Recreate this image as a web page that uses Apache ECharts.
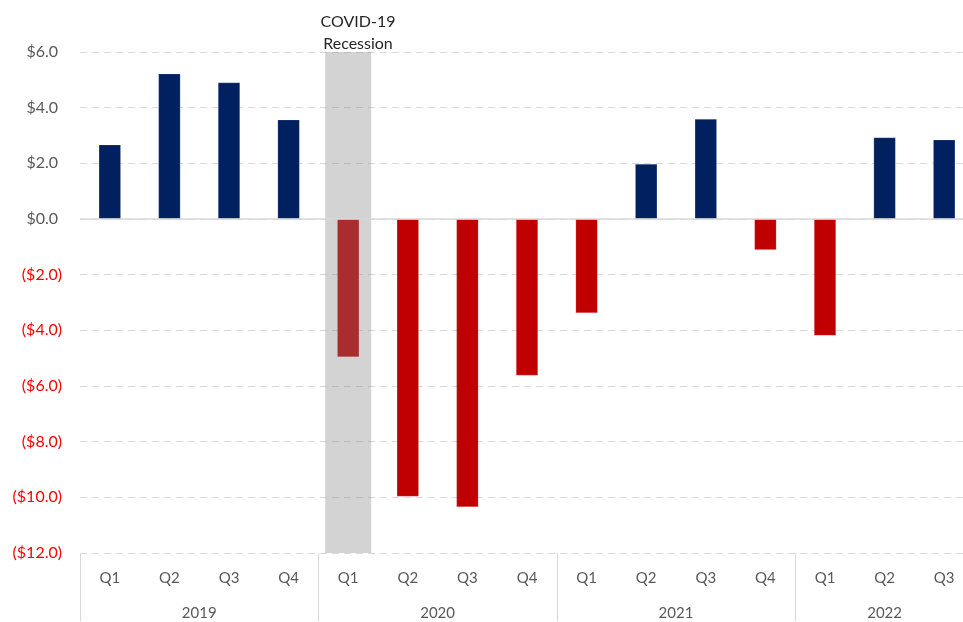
<!DOCTYPE html>
<html>
<head>
<meta charset="utf-8">
<title>COVID-19 Recession</title>
<script src="https://cdn.jsdelivr.net/npm/echarts@6/dist/echarts.min.js"></script>
<style>
  html, body { margin: 0; padding: 0; background: #fff; }
  #myChart { width: 963px; height: 622px; }
</style>
</head>
<body>
<div id="myChart"></div>
<script>
// quarters along the bottom, grouped by year
const quarters = ['Q1', 'Q2', 'Q3', 'Q4', 'Q1', 'Q2', 'Q3', 'Q4', 'Q1', 'Q2', 'Q3', 'Q4', 'Q1', 'Q2', 'Q3']
const years = ['2019', '2020', '2021', '2022']
const quartersPerYear = [4, 4, 4, 3]
const values = [2.67, 5.22, 4.90, 3.57, -4.96, -9.97, -10.35, -5.62, -3.38, 1.98, 3.59, -1.11, -4.19, 2.93, 2.85]
// index of the quarter covered by the recession band
const recessionIdx = [4]
const yTicks = [-12, -10, -8, -6, -4, -2, 0, 2, 4, 6]

const yMin = yTicks[0]
const yMax = yTicks[yTicks.length - 1]

// year group edges and centres on a 0..15 scale
const yearEdges = [0]
quartersPerYear.forEach((n, i) => yearEdges.push(yearEdges[i] + n))
const yearCenters = years.map((y, i) => (yearEdges[i] + yearEdges[i + 1]) / 2)

const bandUp = quarters.map((q, i) => recessionIdx.includes(i) ? yMax : null)
const bandDown = quarters.map((q, i) => recessionIdx.includes(i) ? yMin : null)

const font = 'Lato, "Noto Sans", sans-serif'
const grey = '#595959'

const chart = echarts.init(document.getElementById('myChart'), null, { renderer: 'canvas' })

const option = {
  animation: false,
  textStyle: { fontFamily: font },
  title: {
    text: 'COVID-19\nRecession',
    left: 353,
    top: 6,
    textAlign: 'center',
    textStyle: { fontFamily: font, fontSize: 16, fontWeight: 'normal', color: '#262626', lineHeight: 22 }
  },
  grid: { left: 80, top: 52, width: 894, height: 501, containLabel: false, outerBoundsMode: 'none' },
  xAxis: [
    {
      type: 'category',
      data: quarters,
      position: 'bottom',
      axisLine: { show: false },
      axisTick: { show: false },
      axisLabel: { color: grey, fontSize: 15, margin: 18, fontFamily: font }
    },
    {
      type: 'value',
      min: 0,
      max: yearEdges[yearEdges.length - 1],
      position: 'bottom',
      axisLine: { show: false },
      splitLine: { show: false },
      axisTick: {
        show: true,
        length: 68,
        customValues: yearEdges,
        lineStyle: { color: '#D9D9D9', width: 1 }
      },
      axisLabel: {
        customValues: yearCenters,
        margin: 53,
        color: grey,
        fontSize: 15,
        fontFamily: font,
        formatter: function (v) {
          const i = yearCenters.indexOf(v)
          return i >= 0 ? years[i] : ''
        }
      }
    },
    {
      type: 'category',
      data: quarters,
      show: false
    }
  ],
  yAxis: {
    type: 'value',
    min: yMin,
    max: yMax,
    interval: 2,
    axisLine: { show: false },
    axisTick: { show: false },
    splitLine: { lineStyle: { color: '#D9D9D9', type: [7, 5], width: 1 } },
    axisLabel: {
      margin: 18,
      fontFamily: font,
      formatter: function (v) {
        if (v < 0) return '{n|($' + Math.abs(v).toFixed(1) + ')}'
        return '{p|$' + v.toFixed(1) + '}'
      },
      rich: {
        p: { color: grey, fontSize: 16, fontFamily: font, padding: [0, 4, 0, 0] },
        n: { color: '#FF0000', fontSize: 16, fontFamily: font }
      }
    }
  },
  series: [
    {
      type: 'bar',
      data: values,
      xAxisIndex: 0,
      barWidth: 22,
      z: 2,
      itemStyle: {
        color: function (p) { return p.value < 0 ? '#C00000' : '#002060' },
        borderColor: 'rgba(255,255,255,0.35)',
        borderWidth: 0.5
      },
      markLine: {
        silent: true,
        symbol: 'none',
        label: { show: false },
        lineStyle: { color: '#D9D9D9', type: 'solid', width: 1.5 },
        data: [{ yAxis: 0 }]
      }
    },
    {
      type: 'bar',
      data: bandUp,
      xAxisIndex: 2,
      stack: 'band',
      barWidth: 46,
      z: 3,
      silent: true,
      itemStyle: { color: 'rgba(130,130,130,0.35)' }
    },
    {
      type: 'bar',
      data: bandDown,
      xAxisIndex: 2,
      stack: 'band',
      barWidth: 46,
      z: 3,
      silent: true,
      itemStyle: { color: 'rgba(130,130,130,0.35)' }
    }
  ]
}

chart.setOption(option)
window.addEventListener('resize', () => chart.resize())
</script>
</body>
</html>
